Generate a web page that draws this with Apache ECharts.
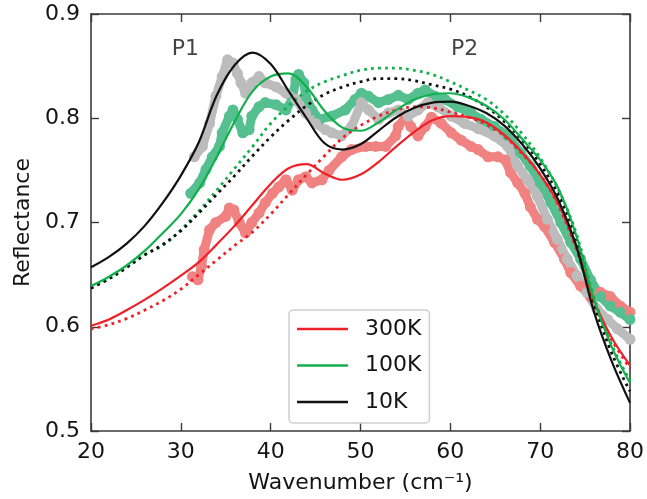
<!DOCTYPE html>
<html><head><meta charset="utf-8">
<script src="https://cdn.jsdelivr.net/npm/echarts@6/dist/echarts.min.js"></script>
<style>html,body{margin:0;padding:0;background:#fff}#c{width:647px;height:499px}</style>
</head><body><div id="c"></div>
<script>
// Fitted curves (sampled every 2 cm^-1)
const fitWavenumber = [20,22,24,26,28,30,32,34,36,38,40,42,44,46,48,50,52,54,56,58,60,62,64,66,68,70,72,74,76,78,80];
const fit300K = [0.601,0.607,0.616,0.626,0.637,0.649,0.662,0.679,0.697,0.717,0.737,0.752,0.756,0.747,0.741,0.746,0.758,0.773,0.787,0.798,0.802,0.801,0.796,0.784,0.767,0.746,0.718,0.677,0.625,0.589,0.563];
const fit100K = [0.639,0.648,0.659,0.673,0.690,0.708,0.732,0.763,0.797,0.826,0.840,0.843,0.830,0.807,0.791,0.788,0.796,0.808,0.818,0.823,0.824,0.820,0.812,0.799,0.780,0.760,0.733,0.688,0.626,0.580,0.546];
const fit10K  = [0.657,0.667,0.680,0.697,0.719,0.745,0.777,0.822,0.851,0.863,0.852,0.826,0.800,0.776,0.770,0.775,0.788,0.801,0.810,0.815,0.816,0.812,0.805,0.793,0.775,0.752,0.722,0.678,0.614,0.566,0.527];
// Dotted (single-band) curves
const dot300K = [0.598,0.602,0.608,0.616,0.625,0.636,0.650,0.664,0.678,0.691,0.708,0.727,0.746,0.764,0.781,0.793,0.802,0.808,0.811,0.810,0.806,0.801,0.794,0.783,0.766,0.746,0.717,0.675,0.622,0.587,0.560];
const dot100K = [0.637,0.646,0.657,0.669,0.678,0.693,0.711,0.731,0.752,0.773,0.795,0.812,0.826,0.835,0.841,0.846,0.848,0.848,0.846,0.842,0.835,0.827,0.818,0.804,0.785,0.762,0.732,0.690,0.628,0.582,0.548];
const dot10K  = [0.637,0.646,0.657,0.669,0.679,0.692,0.709,0.727,0.745,0.764,0.782,0.798,0.812,0.823,0.830,0.835,0.838,0.838,0.836,0.832,0.828,0.821,0.811,0.797,0.779,0.756,0.727,0.685,0.622,0.574,0.538];
// Measured data
const exp10Kx = [31.5,32.4,33.2,33.9,34.6,35.2,35.8,36.3,36.7,37.2,37.9,38.7,39.4,40.6,41.7,42.8,43.9,45.0,46.1,46.8,47.9,49.0,50.1,50.9,52.0,53.1,54.2,55.3,56.4,57.5,58.6,60.1,61.6,63.1,64.9,66.4,67.5,68.6,69.7,70.8,71.9,73.0,74.1,75.2,76.3,77.5,78.6,80.0];
const exp10Ky = [0.763,0.773,0.795,0.821,0.840,0.856,0.853,0.843,0.834,0.824,0.834,0.840,0.834,0.830,0.824,0.818,0.805,0.795,0.789,0.786,0.783,0.792,0.815,0.808,0.799,0.805,0.808,0.802,0.808,0.815,0.811,0.802,0.795,0.790,0.783,0.773,0.754,0.741,0.725,0.703,0.684,0.665,0.649,0.633,0.617,0.607,0.598,0.588];
const exp100Kx = [31.1,32.1,32.8,33.5,34.3,34.6,35.4,35.8,36.3,36.9,37.6,37.9,38.7,39.4,40.6,41.7,42.4,42.8,43.1,43.7,43.9,44.6,45.4,46.8,48.3,49.4,50.1,50.9,52.0,53.1,54.2,55.3,56.4,57.2,58.3,59.4,60.8,62.3,63.4,64.9,66.4,67.8,68.9,70.0,71.2,72.3,73.4,74.5,75.6,76.7,77.8,78.9,80.0];
const exp100Ky = [0.728,0.738,0.751,0.763,0.773,0.786,0.802,0.808,0.799,0.786,0.789,0.802,0.811,0.815,0.813,0.808,0.818,0.837,0.842,0.834,0.821,0.808,0.799,0.802,0.808,0.818,0.824,0.821,0.815,0.818,0.822,0.818,0.824,0.827,0.821,0.818,0.811,0.805,0.799,0.792,0.783,0.767,0.754,0.738,0.719,0.700,0.681,0.665,0.645,0.629,0.620,0.614,0.607];
const exp300Kx = [31.3,31.9,32.3,32.6,33.2,33.9,35.0,35.4,35.9,36.5,37.2,37.9,38.7,39.4,40.2,40.9,41.7,42.4,43.1,43.9,44.6,45.7,46.5,47.9,49.0,50.6,51.7,52.8,53.9,54.2,55.0,55.6,56.4,57.2,57.9,59.0,60.1,61.2,62.3,63.1,64.2,65.3,66.1,66.7,67.5,68.3,68.9,69.7,70.5,71.6,72.7,73.4,74.5,75.6,76.7,77.8,78.9,80.0];
const exp300Ky = [0.648,0.645,0.658,0.674,0.693,0.700,0.706,0.714,0.712,0.700,0.690,0.700,0.709,0.719,0.728,0.734,0.741,0.731,0.741,0.744,0.738,0.741,0.750,0.763,0.770,0.773,0.773,0.773,0.783,0.792,0.801,0.792,0.783,0.792,0.801,0.795,0.786,0.779,0.773,0.770,0.763,0.763,0.760,0.748,0.738,0.728,0.715,0.703,0.696,0.681,0.665,0.652,0.639,0.629,0.633,0.629,0.620,0.614];
// Axis ticks and annotations
const xTicks = [20,30,40,50,60,70,80];
const yTicks = [0.5,0.6,0.7,0.8,0.9];
const legendNames = ['300K','100K','10K'];
const peakLabels = ['P1','P2'];
const peakX = [30.5,61.6];
const peakY = [0.8665,0.8665];

const FONT = 'DejaVu Sans';
const TXT = '#141414';
const zip = (xs, ys) => xs.map((x, i) => [x, ys[i]]);
const AX = '#3a3a3a';

function expSeries(name, xs, ys, color) {
  return { name, type:'line', data: zip(xs, ys), symbol:'circle', symbolSize:11, showSymbol:true,
    showAllSymbol:true,
    lineStyle:{ color, width:9, cap:'round', join:'round' }, itemStyle:{ color, borderWidth:0 },
    z:1, silent:true };
}
function fitSeries(name, ys, color, dotted) {
  return { name, type:'line', data: zip(fitWavenumber, ys), symbol:'none', smooth:0.35,
    lineStyle: dotted ? { color, width:2.8, type:[2.8,4.2], cap:'butt' } : { color, width:2.2 },
    itemStyle:{ color }, z: dotted ? 3 : 4, silent:true };
}

const chart = echarts.init(document.getElementById('c'), null, { renderer:'canvas' });
const xAxisBase = { type:'value', min: xTicks[0], max: xTicks[xTicks.length-1], interval: 10,
  splitLine:{show:false}, axisLine:{show:true, onZero:false, lineStyle:{color:AX, width:1.6}},
  axisTick:{show:true, inside:true, length:8, lineStyle:{color:AX, width:1.4}} };
const yAxisBase = { type:'value', min: yTicks[0], max: yTicks[yTicks.length-1], interval: 0.1,
  splitLine:{show:false}, axisLine:{show:true, onZero:false, lineStyle:{color:AX, width:1.6}},
  axisTick:{show:true, inside:true, length:8, lineStyle:{color:AX, width:1.4}} };

const lineIcon = 'path://M0,0 H51 V2.3 H0 Z';

chart.setOption({
  animation:false,
  backgroundColor:'#fff',
  grid:{ left:91, right:14, top:14, bottom:67, containLabel:false },
  xAxis:[
    Object.assign({}, xAxisBase, { position:'bottom',
      axisLabel:{ show:true, margin:10, fontSize:22, fontFamily:FONT, color:TXT },
      name:'Wavenumber (cm⁻¹)', nameLocation:'middle', nameGap:41,
      nameTextStyle:{ fontSize:22, fontFamily:FONT, color:TXT } }),
    Object.assign({}, xAxisBase, { position:'top', axisLabel:{show:false} })
  ],
  yAxis:[
    Object.assign({}, yAxisBase, { position:'left',
      axisLabel:{ show:true, margin:11, fontSize:22, fontFamily:FONT, color:TXT,
        formatter: v => v.toFixed(1) },
      name:'Reflectance', nameLocation:'middle', nameGap:47,
      nameTextStyle:{ fontSize:22, fontFamily:FONT, color:TXT } }),
    Object.assign({}, yAxisBase, { position:'right', axisLabel:{show:false} })
  ],
  legend:{ data: legendNames.map(n => ({ name:n, icon: lineIcon })), orient:'vertical', left:289, top:310,
    padding:[8,8,10,8], itemWidth:51, itemHeight:20, itemGap:14.5,
    borderColor:'#cfcfcf', borderWidth:1.5, borderRadius:4, backgroundColor:'#ffffff',
    selectedMode:false,
    textStyle:{ fontSize:22, fontFamily:FONT, color:TXT, padding:[0,0,0,12] } },
  series:[
    expSeries('exp300K', exp300Kx, exp300Ky, '#f08282'),
    expSeries('exp100K', exp100Kx, exp100Ky, '#55bf90'),
    expSeries('exp10K', exp10Kx, exp10Ky, '#bcbcbc'),
    fitSeries('dot300K', dot300K, '#ee2028', true),
    fitSeries('dot100K', dot100K, '#12b04c', true),
    fitSeries('dot10K', dot10K, '#111111', true),
    fitSeries(legendNames[0], fit300K, '#ee2028', false),
    fitSeries(legendNames[1], fit100K, '#12b04c', false),
    fitSeries(legendNames[2], fit10K, '#111111', false),
    { name:'peaks', type:'scatter', data: peakX.map((x,i)=>({ value:[x, peakY[i]], name: peakLabels[i] })),
      symbolSize:0, silent:true, z:5,
      label:{ show:true, position:'inside', formatter: p => p.name, fontSize:22, fontFamily:FONT, color:TXT } }
  ]
});
</script>
</body></html>
